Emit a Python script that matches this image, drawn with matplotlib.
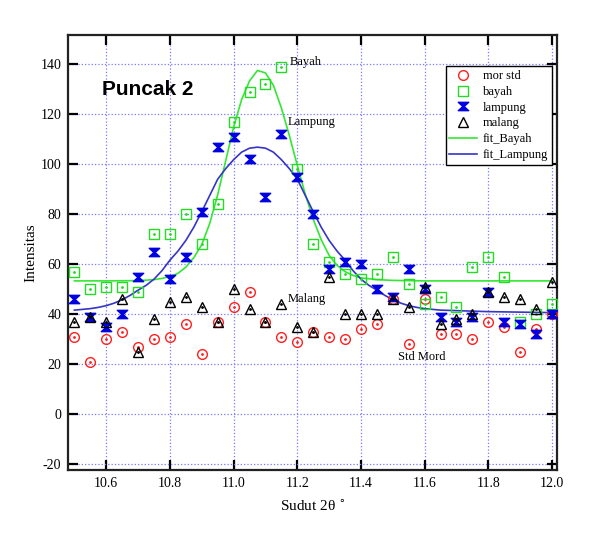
import numpy as np
import matplotlib.pyplot as plt
from matplotlib.path import Path

# measured angle (2 theta) for every sample
sudut = [10.5, 10.55, 10.6, 10.65, 10.7, 10.75, 10.8, 10.85, 10.9, 10.95,
         11.0, 11.05, 11.1, 11.15, 11.2, 11.25, 11.3, 11.35, 11.4, 11.45,
         11.5, 11.55, 11.6, 11.65, 11.7, 11.75, 11.8, 11.85, 11.9, 11.95, 12.0]
mor_std = [31, 21, 30, 33, 27, 30, 31, 36, 24, 37, 43, 49, 37, 31, 29, 33,
           31, 30, 34, 36, 46, 28, 46, 32, 32, 30, 37, 35, 25, 34, 40]
bayah = [57, 50, 51, 51, 49, 72, 72, 80, 68, 84, 117, 129, 132, 139, 98, 68,
         61, 56, 54, 56, 63, 52, 44, 47, 43, 59, 63, 55, 37, 40, 44]
lampung = [46, 39, 35, 40, 55, 65, 54, 63, 81, 107, 111, 102, 87, 112, 95, 80,
           58, 61, 60, 50, 47, 58, 50, 39, 37, 39, 49, 37, 36, 32, 40]
malang = [37, 39, 37, 46, 25, 38, 45, 47, 43, 37, 50, 42, 37, 44, 35, 33,
          55, 40, 40, 40, 46, 43, 51, 36, 38, 40, 49, 47, 46, 42, 53]

# fit curves
fitb_x = [10.5, 10.6, 10.7, 10.75, 10.775, 10.8, 10.825, 10.85, 10.875, 10.9,
          10.925, 10.95, 10.975, 11.0, 11.025, 11.05, 11.075, 11.1, 11.125,
          11.15, 11.175, 11.2, 11.225, 11.25, 11.275, 11.3, 11.325, 11.35,
          11.375, 11.4, 11.45, 11.5, 11.6, 12.0]
fitb_y = [53.3, 53.3, 53.4, 53.8, 54.3, 55.0, 56.3, 58.8, 62.6, 67.8,
          76.3, 87.8, 101.3, 114.8, 125.8, 133.3, 137.5, 136.5, 131.5,
          122.5, 111.5, 99.5, 88.0, 78.0, 69.8, 63.5, 59.5, 57.0,
          55.5, 54.5, 53.8, 53.5, 53.3, 53.3]
fitl_x = [10.5, 10.525, 10.55, 10.575, 10.6, 10.625, 10.65, 10.675, 10.7,
          10.725, 10.75, 10.775, 10.8, 10.825, 10.85, 10.875, 10.9, 10.925,
          10.95, 10.975, 11.0, 11.025, 11.05, 11.075, 11.1, 11.125, 11.15,
          11.175, 11.2, 11.225, 11.25, 11.275, 11.3, 11.325, 11.35, 11.375,
          11.4, 11.425, 11.45, 11.475, 11.5, 11.525, 11.55, 11.575, 11.6,
          11.625, 11.65, 11.8, 12.0]
fitl_y = [41.6, 41.9, 42.2, 42.7, 43.4, 44.4, 45.8, 47.5, 49.6,
          51.5, 54.0, 57.4, 61.6, 65.2, 69.5, 74.8, 81.0, 87.5,
          94.0, 98.2, 101.8, 104.8, 106.4, 106.8, 106.4, 104.8, 101.8,
          98.2, 94.0, 87.5, 81.0, 74.8, 69.5, 65.2, 61.6, 57.4,
          54.0, 51.5, 49.6, 47.5, 45.8, 44.4, 43.4, 42.7, 42.2,
          41.9, 41.6, 41.0, 40.6]

serif = 'Liberation Serif'

# hourglass marker for lampung
jam = Path([(-1, 0.8), (1, 0.8), (0.12, 0), (1, -0.8), (-1, -0.8), (-0.12, 0), (-1, 0.8)],
           [Path.MOVETO] + [Path.LINETO] * 5 + [Path.CLOSEPOLY])

fig = plt.figure(figsize=(5.92, 5.33), dpi=100)
ax = fig.add_axes([0.115, 0.118, 0.826, 0.816])

ax.plot(fitb_x, fitb_y, color='#33e833', lw=1.2, label='fit_Bayah', zorder=3)
ax.plot(fitl_x, fitl_y, color='#3535c8', lw=1.2, label='fit_Lampung', zorder=3)

ax.plot(sudut, mor_std, ls='none', marker='o', ms=7, mfc='none', mec='#ff2020',
        mew=1.0, label='mor std', zorder=4)
ax.plot(sudut, mor_std, ls='none', marker='.', ms=2, color='#ff2020', zorder=4)
ax.plot(sudut, bayah, ls='none', marker='s', ms=7, mfc='none', mec='#22dd22',
        mew=1.0, label='bayah', zorder=5)
ax.plot(sudut, bayah, ls='none', marker='.', ms=2, color='#22dd22', zorder=5)
ax.plot(sudut, lampung, ls='none', marker=jam, ms=7.5, color='#0000e0',
        label='lampung', zorder=6)
ax.plot(sudut, malang, ls='none', marker='^', ms=7, mfc='none', mec='black',
        mew=1.0, label='malang', zorder=7)
ax.plot(sudut, malang, ls='none', marker='.', ms=2, color='black', zorder=7)

ax.set_xlim(10.48, 12.016)
ax.set_ylim(-22.4, 151.6)
ax.set_xticks([10.6, 10.8, 11.0, 11.2, 11.4, 11.6, 11.8, 12.0])
ax.set_yticks(range(-20, 141, 20))
ax.set_xticklabels(['10.6', '10.8', '11.0', '11.2', '11.4', '11.6', '11.8', '12.0'],
                   family=serif, fontsize=10)
ax.set_yticklabels([str(v) for v in range(-20, 141, 20)], family=serif, fontsize=10)
ax.tick_params(direction='in', length=7, width=1.6, top=True, right=True, pad=5)
ax.grid(True, color='#7878ff', ls=':', lw=0.9)
for s in ax.spines.values():
    s.set_linewidth(1.6)
    s.set_color('#222222')

ax.set_xlabel('Sudut 2θ $^{\\circ}$', family=serif, fontsize=11, labelpad=6)
ax.set_ylabel('Intensitas', family=serif, fontsize=11, labelpad=2)

ax.text(10.587, 130, 'Puncak 2', family='Liberation Sans', fontweight='bold',
        fontsize=15, va='center')
ax.text(11.175, 141, 'Bayah', family=serif, fontsize=9, va='center')
ax.text(11.17, 117, 'Lampung', family=serif, fontsize=9, va='center')
ax.text(11.17, 46, 'Malang', family=serif, fontsize=9, va='center')
ax.text(11.515, 23, 'Std Mord', family=serif, fontsize=9, va='center')

h, l = ax.get_legend_handles_labels()
order = [l.index(n) for n in ['mor std', 'bayah', 'lampung', 'malang', 'fit_Bayah', 'fit_Lampung']]
leg = ax.legend([h[i] for i in order], [l[i] for i in order], loc='upper right',
                bbox_to_anchor=(0.99, 0.928), borderaxespad=0,
                prop={'family': serif, 'size': 9},
                fancybox=False, framealpha=1, edgecolor='black', handlelength=2.2,
                labelspacing=0.3, borderpad=0.3, handletextpad=0.5)
leg.get_frame().set_linewidth(1.0)

plt.savefig('out.png', dpi=100)
